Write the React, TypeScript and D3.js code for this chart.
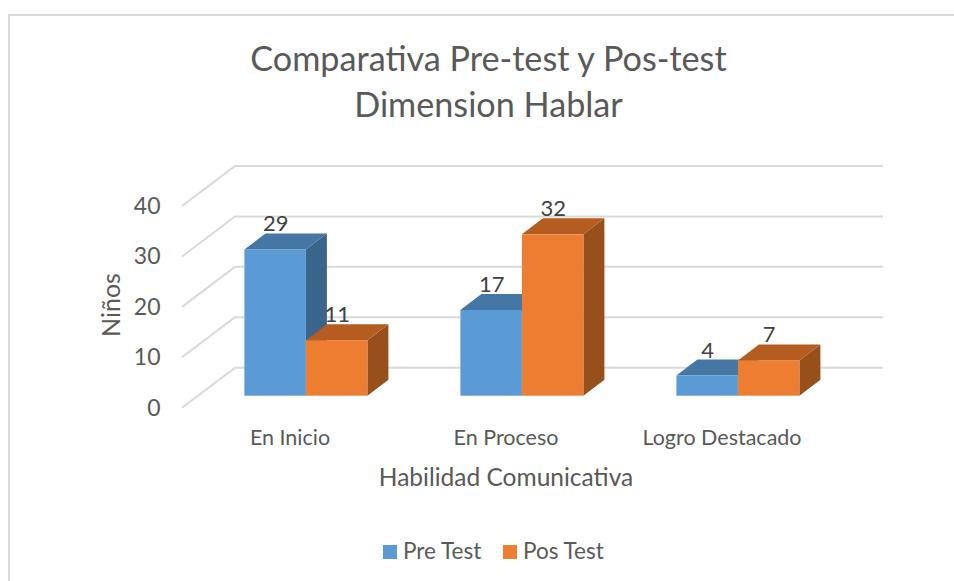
import React, { useEffect, useRef } from 'react';
import * as d3 from 'd3';

const categories = ['En Inicio', 'En Proceso', 'Logro Destacado'];
const seriesNames = ['Pre Test', 'Pos Test'];
const preTest = [29, 17, 4];
const posTest = [11, 32, 7];
const yTicks = [0, 10, 20, 30, 40];

const FONT = 'Lato, "Open Sans", sans-serif';
const colors = ['#5b9bd5', '#ed7d31'];
const topColors = ['#4676a3', '#b55d21'];
const sideColors = ['#3a6489', '#97501b'];
const textColor = '#595959';
const labelColor = '#404040';
const gridColor = '#d9d9d9';

// oblique shift of the floor, from the front edge to the back wall
const wallDx = 53;
const wallDy = -40;
// bars sit a little behind the front edge and are less deep than the floor
const barShift = 0.3;
const barDx = 21;
const barDy = -16;

export default function App() {
    const svgRef = useRef<SVGSVGElement>(null);

    useEffect(() => {
        const svg = d3.select(svgRef.current);
        svg.selectAll('*').remove();

        svg.append('rect')
            .attr('x', 9)
            .attr('y', 15)
            .attr('width', 960)
            .attr('height', 580)
            .attr('fill', '#fff')
            .attr('stroke', gridColor)
            .attr('stroke-width', 2);

        // front plane scales
        const x = d3.scaleBand<string>().domain(categories).range([182, 830]);
        const y = d3.scaleLinear().domain([0, 40]).range([407.7, 206]);
        const inner = d3.scaleBand<string>().domain(seriesNames).range([0, x.bandwidth()]).paddingOuter(0.756);
        const barW = inner.bandwidth();

        // walls
        const grid = svg.append('g');
        yTicks.forEach((t) => {
            const line = d3.line();
            grid.append('path')
                .attr('d', line([
                    [x.range()[0], y(t)],
                    [x.range()[0] + wallDx, y(t) + wallDy],
                    [x.range()[1] + wallDx, y(t) + wallDy],
                ]))
                .attr('fill', 'none')
                .attr('stroke', gridColor)
                .attr('stroke-width', 2);
        });

        // y axis labels
        const axis = svg.append('g')
            .attr('transform', 'translate(160.5,0)')
            .call(d3.axisLeft(y).tickValues(yTicks).tickSize(0).tickPadding(0));
        axis.select('.domain').remove();
        axis.selectAll('text')
            .attr('font-family', FONT)
            .attr('font-size', 23)
            .attr('fill', textColor);

        const baseY = y(0) + wallDy * barShift;
        const shiftX = wallDx * barShift;
        const polygon = (pts: [number, number][]) => pts.map((p) => p.join(',')).join(' ');

        const drawBar = (cat: string, s: number, value: number) => {
            const x0 = (x(cat) as number) + (inner(seriesNames[s]) as number) + shiftX;
            const x1 = x0 + barW;
            const top = y(value) + wallDy * barShift;
            const g = svg.append('g');
            g.append('polygon')
                .attr('points', polygon([[x1, top], [x1 + barDx, top + barDy], [x1 + barDx, baseY + barDy], [x1, baseY]]))
                .attr('fill', sideColors[s]);
            g.append('polygon')
                .attr('points', polygon([[x0, top], [x0 + barDx, top + barDy], [x1 + barDx, top + barDy], [x1, top]]))
                .attr('fill', topColors[s]);
            g.append('rect')
                .attr('x', x0)
                .attr('y', top)
                .attr('width', barW)
                .attr('height', baseY - top)
                .attr('fill', colors[s]);
            return { x: x0 + barW / 2 + barDx / 2, y: top + barDy - 3 };
        };

        // value labels go on last so the neighbouring bar cannot cover them
        const labels: { x: number; y: number; v: number }[] = [];
        categories.forEach((cat, i) => {
            const a = drawBar(cat, 0, preTest[i]);
            labels.push({ ...a, v: preTest[i] });
            const b = drawBar(cat, 1, posTest[i]);
            labels.push({ ...b, v: posTest[i] });
        });
        svg.append('g')
            .selectAll('text')
            .data(labels)
            .join('text')
            .attr('x', (d) => d.x - 10)
            .attr('y', (d) => d.y + 1)
            .attr('text-anchor', 'middle')
            .attr('font-family', FONT)
            .attr('font-size', 22)
            .attr('fill', labelColor)
            .text((d) => d.v);

        // category labels
        svg.append('g')
            .selectAll('text')
            .data(categories)
            .join('text')
            .attr('x', (d) => (x(d) as number) + x.bandwidth() / 2)
            .attr('y', 445)
            .attr('text-anchor', 'middle')
            .attr('font-family', FONT)
            .attr('font-size', 21.5)
            .attr('fill', textColor)
            .text((d) => d);

        const addText = (tx: number, ty: number, text: string, size: number) =>
            svg.append('text')
                .attr('x', tx)
                .attr('y', ty)
                .attr('text-anchor', 'middle')
                .attr('font-family', FONT)
                .attr('font-size', size)
                .attr('fill', textColor)
                .text(text);

        addText(488.5, 71, 'Comparativa Pre-test y Pos-test', 34.2);
        addText(488.5, 117, 'Dimension Hablar', 34.2);
        addText(506, 486, 'Habilidad Comunicativa', 24.5);
        addText(0, 0, 'Niños', 25).attr('transform', 'translate(120,305) rotate(-90)');

        // legend
        const legendX = [383, 503];
        seriesNames.forEach((name, i) => {
            svg.append('rect')
                .attr('x', legendX[i])
                .attr('y', 545)
                .attr('width', 14)
                .attr('height', 14)
                .attr('fill', colors[i]);
            addText(legendX[i] + 20, 559, name, 22.5).attr('text-anchor', 'start');
        });
    }, []);

    return <svg ref={svgRef} width={954} height={581} style={{ position: 'absolute', left: 0, top: 0 }} />;
}
